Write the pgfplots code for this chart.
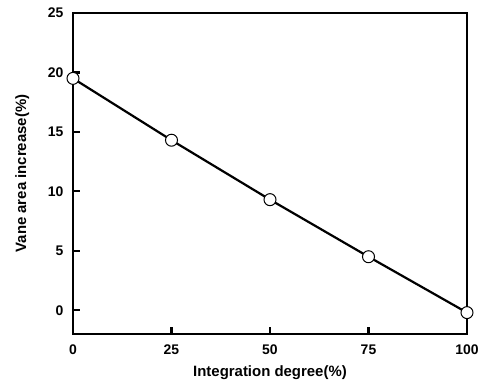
\documentclass[border=0pt]{standalone}
\usepackage{pgfplots}
\pgfplotsset{compat=1.18}
\usepackage{fontspec}
\setmainfont{Liberation Sans}
\begin{document}
\begin{tikzpicture}
\useasboundingbox (-73bp,-47bp) rectangle (410bp,334bp);
\begin{axis}[
  at={(0,0)}, anchor=south west,
  scale only axis, width=394bp, height=321bp,
  xmin=0, xmax=100, ymin=-2, ymax=25,
  xtick={0,25,50,75,100}, ytick={0,5,10,15,20,25},
  xtick pos=left, ytick pos=left,
  axis line style={line width=2.6bp},
  tick style={line width=2.2bp, black},
  tick align=inside, major tick length=7bp,
  /pgf/number format/assume math mode=true,
  ticklabel style={font=\bfseries\fontsize{14}{15}\selectfont},
  xticklabel style={yshift=-7bp},
  yticklabel style={xshift=-6bp},
  xlabel={Integration degree(\%)}, ylabel={Vane area increase(\%)},
  label style={font=\bfseries\fontsize{15}{16}\selectfont},
  xlabel style={yshift=-4bp},
  ylabel style={yshift=12bp},
  clip=false,
]
\addplot[black, line width=2.2bp, mark=*, mark size=6bp,
  mark options={fill=white, draw=black, line width=1bp}]
  coordinates {(0,19.5) (25,14.3) (50,9.3) (75,4.5) (100,-0.2)};
\end{axis}
\end{tikzpicture}
\end{document}
